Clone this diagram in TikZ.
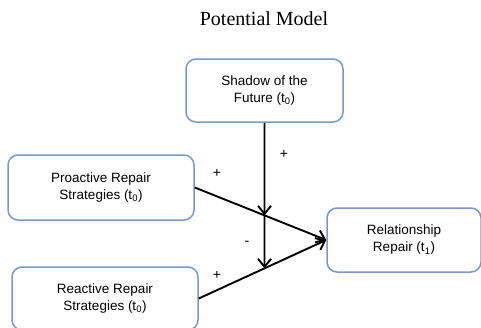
\documentclass[tikz,border=0pt]{standalone}
\usepackage{fontspec}
\setmainfont{Liberation Serif}
\setsansfont{Liberation Sans}
\usetikzlibrary{arrows.meta}
\definecolor{boxblue}{RGB}{122,152,204}
\begin{document}
\begin{tikzpicture}[x=1pt,y=-1pt,
			box/.style={draw=boxblue,line width=1.5pt,rounded corners=10pt,align=center,inner sep=0pt,
				font=\sffamily\fontsize{13.5}{17}\selectfont},
			link/.style={line width=1.9pt,-{Straight Barb[length=8pt,width=13pt]}},
			sign/.style={font=\sffamily\fontsize{14}{16}\selectfont}]
			\useasboundingbox (0,0) rectangle (481,327);
			\clip (0,0) rectangle (481,327);
			
			\node[font=\fontsize{20}{24}\selectfont] (title) at (264,19) {Potential Model};
			
			\node[box,minimum width=157pt,minimum height=63pt] (shd) at (264.5,90.5) {Shadow of the\\Future (t\textsubscript{0})};
			\node[box,minimum width=186pt,minimum height=65pt] (pro) at (101,187.5) {Proactive Repair\\Strategies (t\textsubscript{0})};
			\node[box,minimum width=186pt,minimum height=63pt] (rea) at (105,298.5) {Reactive Repair\\Strategies (t\textsubscript{0})};
			\node[box,minimum width=154pt,minimum height=64pt] (rel) at (404,240) {Relationship\\Repair (t\textsubscript{1})};
			
			\coordinate (m1) at (intersection of pro.east--rel.west and shd.south--shd.north);
			\coordinate (m2) at (intersection of rea.east--rel.west and shd.south--shd.north);
			
			\draw[link] (pro.east) -- (rel.west);
			\draw[link] (rea.east) -- (rel.west);
			\draw[link] (shd) -- (m1);
			\draw[link] (m1) -- (m2);
			
			\node[sign] (s1) at (284,154) {+};
			\node[sign] (s2) at (217,173) {+};
			\node[sign] (s3) at (247,243) {-};
			\node[sign] (s4) at (217,275) {+};
			\end{tikzpicture}
\end{document}
